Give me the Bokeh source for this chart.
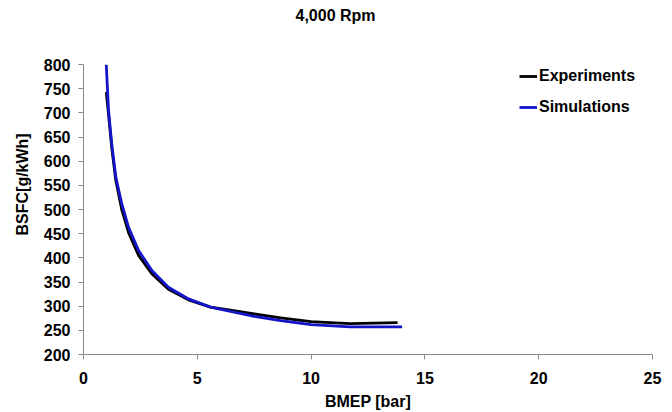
from bokeh.plotting import figure
from bokeh.models import Range1d, Legend, LegendItem, Title, FixedTicker
from bokeh.embed import file_html
from bokeh.resources import INLINE

# Data
exp_bmep = [1.0, 1.1, 1.24, 1.42, 1.68, 1.98, 2.42, 3.0, 3.73, 4.61, 5.58, 6.67, 7.5, 8.66, 10.0, 11.7, 13.8]
exp_bsfc = [743, 697, 628, 560, 500, 452, 405, 367, 335, 313, 298, 290, 284, 276, 268, 264, 266]

sim_bmep = [1.0, 1.1, 1.24, 1.42, 1.68, 1.98, 2.42, 3.0, 3.73, 4.61, 5.58, 6.67, 7.5, 8.66, 10.0, 11.7, 14.0]
sim_bsfc = [800, 705, 636, 567, 512, 463, 415, 374, 339, 315, 298, 287, 279, 270, 262, 257, 257]

x_ticks = [0, 5, 10, 15, 20, 25]
y_ticks = [200, 250, 300, 350, 400, 450, 500, 550, 600, 650, 700, 750, 800]

title_text = "4,000 Rpm"
x_label = "BMEP [bar]"
y_label = "BSFC[g/kWh]"
series_names = ["Experiments", "Simulations"]

FONT = "Liberation Sans"
FS = "16px"

p = figure(width=672, height=412, output_backend="svg", toolbar_location=None,
           x_range=Range1d(0, 25), y_range=Range1d(200, 800),
           min_border_left=83, min_border_right=20, min_border_top=64, min_border_bottom=58)
p.outline_line_color = None
p.xgrid.grid_line_color = None
p.ygrid.grid_line_color = None
p.background_fill_color = "white"
p.border_fill_color = "white"

r1 = p.line(exp_bmep, exp_bsfc, line_color="#000000", line_width=2.8, line_join="round")
r2 = p.line(sim_bmep, sim_bsfc, line_color="#1414C8", line_width=2.8, line_join="round")

for ax in (p.xaxis[0], p.yaxis[0]):
    ax.axis_line_color = "#8a8a8a"
    ax.major_tick_line_color = "#8a8a8a"
    ax.minor_tick_line_color = None
    ax.major_tick_out = 5
    ax.major_tick_in = 0
    ax.major_label_text_font = FONT
    ax.major_label_text_font_style = "bold"
    ax.major_label_text_font_size = FS
    ax.major_label_text_color = "black"

p.xaxis[0].ticker = FixedTicker(ticks=x_ticks)
p.yaxis[0].ticker = FixedTicker(ticks=y_ticks)
p.xaxis[0].major_label_standoff = 12
p.yaxis[0].major_label_standoff = 8

p.xaxis[0].axis_label = x_label
p.xaxis[0].axis_label_text_font = FONT
p.xaxis[0].axis_label_text_font_style = "bold"
p.xaxis[0].axis_label_text_font_size = FS
p.xaxis[0].axis_label_text_color = "black"
p.xaxis[0].axis_label_standoff = 6

# chart title (blank lines below it lift it to the top of the page)
p.title.text = title_text + "\n \n "
p.title.align = "left"
p.title.offset = 212
p.title.vertical_align = "bottom"
p.title.standoff = 0
p.title.text_line_height = 1.2
p.title.text_font = FONT
p.title.text_font_style = "bold"
p.title.text_font_size = FS
p.title.text_color = "black"

# y-axis title, shifted upwards like the reference
yt = Title(text=y_label, align="left", offset=119, vertical_align="top", standoff=16,
           text_font=FONT, text_font_style="bold", text_font_size=FS, text_color="black")
p.add_layout(yt, "left")

legend = Legend(items=[LegendItem(label=series_names[0], renderers=[r1]),
                       LegendItem(label=series_names[1], renderers=[r2])],
                location=(436, 237), orientation="vertical",
                padding=0, margin=0, spacing=11,
                glyph_width=18, glyph_height=20, label_height=20,
                label_standoff=2,
                label_text_font=FONT, label_text_font_style="bold",
                label_text_font_size=FS, label_text_color="black",
                border_line_color=None, background_fill_alpha=0)
p.add_layout(legend, "center")

open("out.html", "w").write(file_html(p, INLINE))
